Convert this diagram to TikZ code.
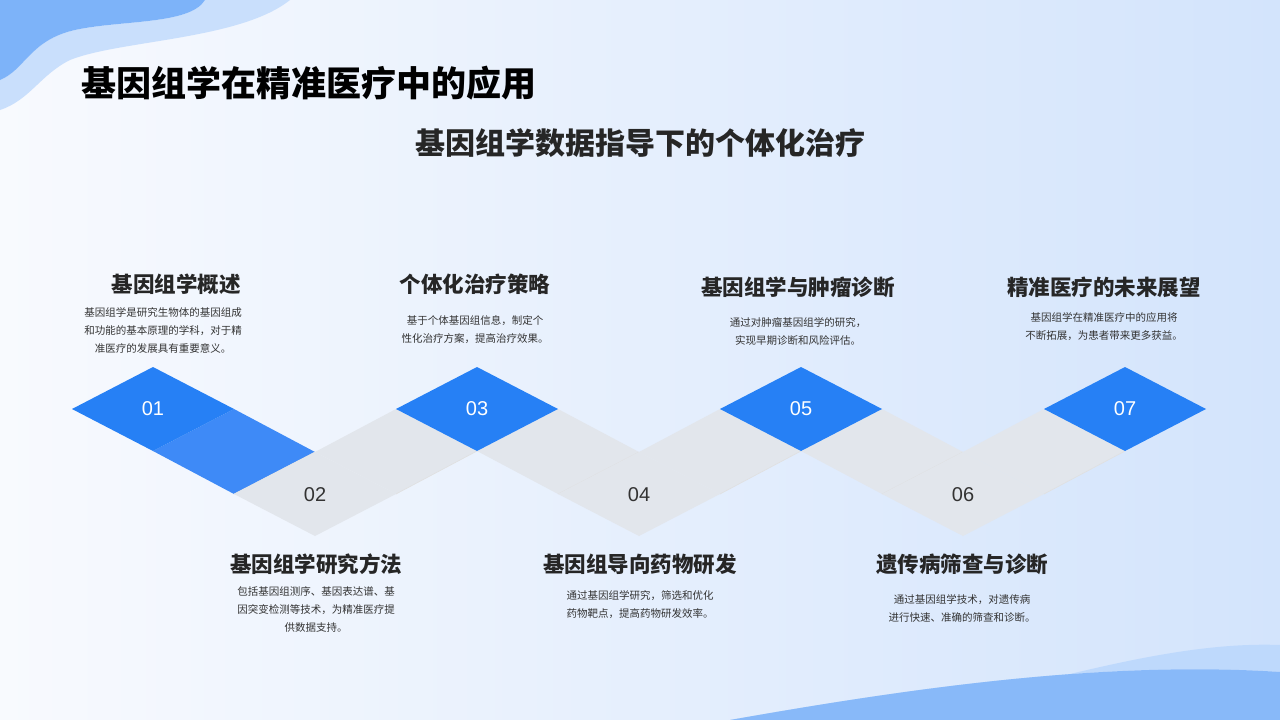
\documentclass[tikz,border=0pt]{standalone}
\usepackage{fontspec}
\setmainfont{Noto Sans CJK SC}
\newfontfamily\numf{Liberation Sans}
\begin{document}
\begin{tikzpicture}[x=1pt,y=-1pt,
  bluec/.style={fill=blue1},
  grayc/.style={fill=gray1},
  num/.style={font=\numf\fontsize{20}{20}\selectfont},
  head/.style={font=\fontsize{21.5}{24}\selectfont\bfseries,text=black!85},
  body/.style={font=\fontsize{10.5}{18}\selectfont,text=black!80,align=center}]
\definecolor{blue1}{HTML}{2680F5}
\definecolor{blue2}{HTML}{3E8AF7}
\definecolor{gray1}{HTML}{E2E6EC}
\definecolor{bgA}{HTML}{F8FAFE}
\definecolor{bgB}{HTML}{D3E4FC}
\useasboundingbox (0,0) rectangle (1280,720);
\shade[left color=bgA,right color=bgB] (0,0) rectangle (1280,720);
\fill[blue1!25] (205,0) -- (290,0) .. controls (240,40) and (120,40) .. (70,60) .. controls (40,75) and (30,100) .. (0,110) -- (0,80) .. controls (25,70) and (30,40) .. (75,30) .. controls (120,20) and (190,25) .. (205,0);
\fill[blue1!60] (0,0) -- (205,0) .. controls (190,25) and (120,20) .. (75,30) .. controls (30,40) and (25,70) .. (0,80) -- cycle;
\fill[blue1!30] (860,720) .. controls (1000,700) and (1150,640) .. (1280,645) -- (1280,672) .. controls (1100,660) and (900,690) .. (730,720) -- cycle;
\fill[blue1!55] (730,720) .. controls (900,690) and (1100,660) .. (1280,672) -- (1280,720) -- cycle;
\node[anchor=west,font=\fontsize{35}{38}\selectfont\bfseries] (t) at (78,83) {基因组学在精准医疗中的应用};
\node[font=\fontsize{30}{34}\selectfont\bfseries,text=black!85] (st) at (640,143) {基因组学数据指导下的个体化治疗};
\foreach \i/\c in {0/blue2,1/gray1,2/gray1,3/gray1,4/gray1,5/gray1}{
  \pgfmathsetmacro\xa{153+162*\i}
  \ifodd\i
    \fill[fill=\c] (\xa,452) -- (\xa+81,494) -- (\xa+162,451) -- (\xa+81,409) -- cycle;
    \draw[black!12,line width=0.6] (\xa+81,494) -- (\xa+162,451);
  \else
    \fill[fill=\c] (\xa,451) -- (\xa+81,409) -- (\xa+162,452) -- (\xa+81,494) -- cycle;
    \draw[black!12,line width=0.6] (\xa+81,494) -- (\xa+162,452);
  \fi
}
\foreach \i/\n/\y/\s in {0/01/409/bluec,2/03/409/bluec,4/05/409/bluec,6/07/409/bluec,1/02/494/grayc,3/04/494/grayc,5/06/494/grayc}{
  \pgfmathsetmacro\xc{153+162*\i}
  \fill[\s] (\xc-81,\y) -- (\xc,\y-42) -- (\xc+81,\y) -- (\xc,\y+42) -- cycle;
}
\foreach \i/\n in {0/01,2/03,4/05,6/07}{
  \pgfmathsetmacro\xc{153+162*\i}
  \node[num,text=white] (n\n) at (\xc,409) {\n};
}
\foreach \i/\n in {1/02,3/04,5/06}{
  \pgfmathsetmacro\xc{153+162*\i}
  \node[num,text=black!80] (n\n) at (\xc,495) {\n};
}
\node[head] (h1) at (176,284) {基因组学概述};
\node[body] (b1) at (163,330) {基因组学是研究生物体的基因组成\\和功能的基本原理的学科，对于精\\准医疗的发展具有重要意义。};
\node[head] (h3) at (475,284) {个体化治疗策略};
\node[body] (b3) at (475,330) {基于个体基因组信息，制定个\\性化治疗方案，提高治疗效果。};
\node[head] (h5) at (798,287) {基因组学与肿瘤诊断};
\node[body] (b5) at (798,331) {通过对肿瘤基因组学的研究，\\实现早期诊断和风险评估。};
\node[head] (h7) at (1104,287) {精准医疗的未来展望};
\node[body] (b7) at (1104,327) {基因组学在精准医疗中的应用将\\不断拓展，为患者带来更多获益。};
\node[head] (h2) at (316,564) {基因组学研究方法};
\node[body] (b2) at (316,609) {包括基因组测序、基因表达谱、基\\因突变检测等技术，为精准医疗提\\供数据支持。};
\node[head] (h4) at (640,564) {基因组导向药物研发};
\node[body] (b4) at (640,605) {通过基因组学研究，筛选和优化\\药物靶点，提高药物研发效率。};
\node[head] (h6) at (962,564) {遗传病筛查与诊断};
\node[body] (b6) at (962,608) {通过基因组学技术，对遗传病\\进行快速、准确的筛查和诊断。};
\end{tikzpicture}
\end{document}
